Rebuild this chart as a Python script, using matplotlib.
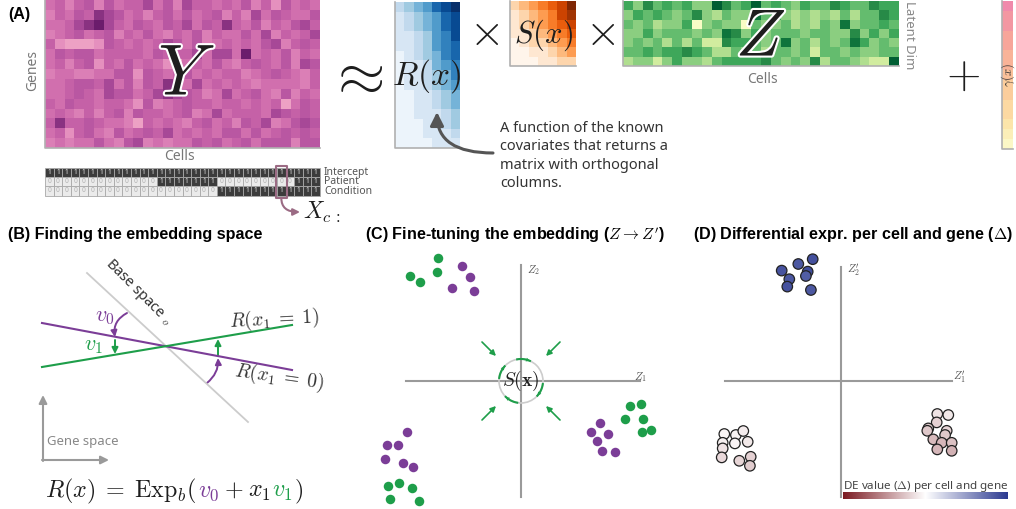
import numpy as np
import matplotlib.pyplot as plt
import matplotlib.patheffects as pe
from matplotlib.colors import LinearSegmentedColormap
from matplotlib.patches import Rectangle, Circle, FancyArrowPatch

plt.rcParams['mathtext.fontset'] = 'cm'
plt.rcParams['font.family'] = ['Noto Sans', 'DejaVu Sans']

W, H = 1016, 509

# ---------------- data ----------------
# Y: genes x cells expression (levels 0-9)
y_rows = [
    "4535636 4557463 7554546 3526454",
    "3546587 6453564 6456353 7465446",
    "4457897 5465465 7465854 6354675",
    "3456456 3546435 4635446 4735457",
    "5211126 5454576 4634545 4673565",
    "4656645 5554655 5747749 4546354",
    "4535625 4645421 4546435 6546376",
    "3443344 6626545 6454553 4565435",
    "4456657 4636585 4745454 3444435",
    "4456547 6645787 6534745 6436354",
    "5465545 5426345 6554554 5451465",
    "4543535 6365545 6347455 5476565",
    "5855654 4315454 3564536 5734676",
    "4525643 6456574 5454664 6456565",
    "3434464 3673434 4656456 4666366",
]
# R(x): genes x latent dim
r_rows = [
    "2345789", "1234578", "1234578", "1123568", "1123567",
    "0123467", "0112456", "0112346", "0112345", "0011234",
    "0011234", "0011123", "0001123", "0001112", "0000111",
]
# S(x): latent x latent
s_rows = ["2345679", "1234578", "1234567", "1123456",
          "0122345", "0011234", "0001122"]
# Z: latent dim x cells
z_rows = [
    "6475656 4497569 5654655 7655766",
    "4656545 7435448 5643434 3535576",
    "5453446 0454405 4453435 4845565",
    "4464555 4548746 4555455 4474646",
    "4545353 5227665 4584535 4586454",
    "5565667 6533545 3554525 5454455",
    "3442464 4356666 7545473 5543229",
]
gamma_vals = [9, 8, 8, 7, 7, 6, 6, 5, 4, 4, 3, 3, 2, 1, 0]

design_names = ["Intercept", "Patient", "Condition"]
design_rows = [
    "1111111111111 1111111 111111111 111",
    "0000000000000 1111111 000000000 111",
    "0000000000000 0000000 111111111 111",
]
highlight_col = 27

# panel C latent coordinates
c_green_z1 = [-4.17, -4.22, -5.55, -5.04, 5.45, 6.0, 5.2, 6.12, 6.04, 6.5,
              -6.64, -6.09, -5.45, -6.55, -5.12]
c_green_z2 = [6.13, 5.47, 5.25, 4.94, -1.24, -1.14, -1.92, -1.92, -2.57, -2.47,
              -5.25, -5.12, -5.34, -5.92, -6.0]
c_purple_z1 = [-2.97, -2.55, -3.47, -2.34, 3.97, 3.49, 4.37, 3.8, 4.04, 4.7,
               -5.72, -6.72, -6.14, -6.8, -5.92, -5.39]
c_purple_z2 = [5.77, 5.19, 4.67, 4.52, -2.09, -2.55, -2.67, -2.99, -3.49, -3.55,
               -2.57, -3.2, -3.2, -3.89, -4.12, -4.29]

# panel D fine-tuned coordinates and DE values
d_z1 = [-1.4, -2.12, -2.95, -1.65, -1.74, -2.57, -2.67, -1.49,
        -5.82, -5.24, -4.87, -5.9, -5.29, -4.65, -5.9, -5.95, -5.07, -4.5, -4.54,
        4.83, 5.38, 4.8, 4.38, 4.33, 5.3, 5.22, 4.63, 5.05, 5.55, 4.83, 5.55]
d_z2 = [6.09, 5.85, 5.52, 5.47, 5.25, 5.09, 4.72, 4.55,
        -2.65, -2.7, -2.5, -3.09, -3.12, -3.04, -3.37, -3.82, -3.99, -3.79, -4.24,
        -1.65, -1.7, -2.07, -2.37, -2.49, -2.49, -2.7, -2.92, -3.09, -3.09, -3.42, -3.49]
d_delta = [0.88, 0.84, 0.86, 0.90, 0.82, 0.85, 0.87, 0.84,
           -0.04, -0.06, -0.08, -0.07, -0.05, -0.10, -0.12, -0.17, -0.18, -0.20, -0.22,
           -0.12, -0.10, -0.20, -0.22, -0.24, -0.19, -0.24, -0.30, -0.32, -0.27, -0.32, -0.34]

PURPLE = '#7b3d97'
GREEN = '#1e9e4a'
BOLD = dict(fontweight='bold', family=['Liberation Sans', 'DejaVu Sans'], fontsize=11.6)


def to_mat(rows):
    return np.array([[int(c) for c in r.replace(' ', '')] for r in rows])


fig = plt.figure(figsize=(W / 100, H / 100), dpi=100)
ax = fig.add_axes([0, 0, 1, 1])
ax.axis('off')


def heat(mat, cmap, box, lo=0, hi=9):
    x0, x1, y0, y1 = box
    ax.imshow(mat, cmap=cmap, vmin=lo, vmax=hi, extent=(x0, x1, y1, y0),
              aspect='auto', interpolation='nearest')
    ax.plot([x0, x0, x1], [y0, y1, y1], color='#b0b0b0', lw=1.2)


# ---------------- panel A ----------------
ycm = LinearSegmentedColormap.from_list('y', ['#f6b3cb', '#e38cbd', '#cc67aa', '#b04f9e', '#6b1c6c'])
gcm = LinearSegmentedColormap.from_list('g', ['#fbf7c6', '#fde3a7', '#fbc79a', '#f8a998', '#f08aab'])
heat(to_mat(y_rows), ycm, (45, 320, 0, 148))
heat(to_mat(r_rows), 'Blues', (395, 460, 2, 148), lo=-0.5)
heat(to_mat(s_rows), 'Oranges', (510, 576, 1, 66))
heat(to_mat(z_rows), 'YlGn', (623, 899, 1, 66), lo=-1, hi=10)
heat(np.array(gamma_vals)[:, None], gcm, (1002, 1013, 1, 149))

stroke = [pe.withStroke(linewidth=3, foreground='white')]
ax.text(187, 76, '$Y$', fontsize=52, ha='center', va='center', color='#1e1e1e', path_effects=stroke)
ax.text(761, 38, '$Z$', fontsize=48, ha='center', va='center', color='#1e1e1e', path_effects=stroke)
ax.text(427, 76, '$R(x)$', fontsize=24, ha='center', va='center', color='#1e1e1e')
ax.text(543, 35, '$S(x)$', fontsize=22, ha='center', va='center', color='#1e1e1e')
ax.text(355, 77, r'$\approx$', fontsize=44, ha='center', va='center', color='#1e1e1e')
ax.text(484, 34, r'$\times$', fontsize=32, ha='center', va='center', color='#1e1e1e')
ax.text(600, 34, r'$\times$', fontsize=32, ha='center', va='center', color='#1e1e1e')
ax.text(963, 77, r'$+$', fontsize=32, ha='center', va='center', color='#1e1e1e')
ax.text(1008, 75, r'$\gamma(x)$', rotation=90, fontsize=9, ha='center', va='center', color='#333')

ax.text(8, 14, '(A)', va='center', **BOLD)
ax.text(179, 157, 'Cells', fontsize=10, color='#777', ha='center', va='center')
ax.text(762, 79, 'Cells', fontsize=10, color='#777', ha='center', va='center')
ax.text(33, 70, 'Genes', fontsize=10, color='#777', ha='center', va='center', rotation=90)
ax.text(910, 35, 'Latent Dim', fontsize=9.5, color='#888', ha='center', va='center', rotation=-90)

ax.text(500, 121, 'A function of the known\ncovariates that returns a\nmatrix with orthogonal\ncolumns.',
        fontsize=10.5, va='top', ha='left', linespacing=1.3, color='#333')
ax.annotate('', xy=(437, 112), xytext=(493, 153),
            arrowprops=dict(arrowstyle='-|>', color='#555', lw=2.2, mutation_scale=20,
                            connectionstyle='angle3,angleA=0,angleB=90', shrinkA=0, shrinkB=0))

# design matrix
tx0, tx1, ty0, rh = 45, 320, 168, 9.2
design = to_mat(design_rows)
cw = (tx1 - tx0) / design.shape[1]
for i, row in enumerate(design):
    for j, v in enumerate(row):
        fc = '#3c3c3c' if v else '#ebebeb'
        ax.add_patch(Rectangle((tx0 + j * cw, ty0 + i * rh), cw, rh, fc=fc, ec='#a8a8a8', lw=0.6))
        ax.text(tx0 + (j + 0.5) * cw, ty0 + (i + 0.5) * rh, str(v), fontsize=4.8,
                color='#e6e6e6' if v else '#b0b0b0', ha='center', va='center')
    ax.text(tx1 + 4, ty0 + (i + 0.5) * rh, design_names[i], fontsize=7.5, color='#555',
            ha='left', va='center')
ax.add_patch(Rectangle((tx0 + highlight_col * cw - 1.5, ty0 - 2.5), cw + 3, 3 * rh + 5,
                       fc='none', ec='#9b6b84', lw=1.5, joinstyle='round'))
ax.annotate('', xy=(300, 212), xytext=(tx0 + (highlight_col + 0.5) * cw, ty0 + 3 * rh + 2.5),
            arrowprops=dict(arrowstyle='-|>', color='#9b6b84', lw=1.5, mutation_scale=10,
                            connectionstyle='angle3,angleA=90,angleB=0', shrinkA=0, shrinkB=0))
ax.text(303, 212, r'$X_{c\,:}$', fontsize=17, ha='left', va='center', color='#1e1e1e')

# ---------------- panel B ----------------
ax.text(8, 235, '(B) Finding the embedding space', va='center', **BOLD)
ax.plot([87, 248], [273, 422], color='#cccccc', lw=1.3)
ax.plot([42, 292], [323, 370], color=PURPLE, lw=1.5)
ax.plot([42, 292], [367, 325], color=GREEN, lw=1.5)
ax.text(101, 268, 'Base space $_o$', rotation=-45, rotation_mode='anchor', fontsize=10.5,
        color='#333', ha='left', va='bottom')
ax.text(105, 317, '$v_0$', fontsize=16, color=PURPLE, ha='center', va='center')
ax.text(94, 346, '$v_1$', fontsize=16, color=GREEN, ha='center', va='center')
ax.text(229, 320, r'$R(x_1 \;=\; 1)$', fontsize=14, color='#333', ha='left', va='center', rotation=3)
ax.text(233, 377, r'$R(x_1 \;=\; 0)$', fontsize=14, color='#333', ha='left', va='center', rotation=-8)


def arrow(p0, p1, color, rad=0.0, ms=9, lw=1.4):
    ax.add_patch(FancyArrowPatch(p0, p1, arrowstyle='-|>', mutation_scale=ms, color=color, lw=lw,
                                 connectionstyle=f'arc3,rad={rad}', shrinkA=0, shrinkB=0))


arrow((127, 313), (115, 337), PURPLE, rad=0.35)
arrow((115, 340), (115, 354), GREEN)
arrow((207, 383), (218, 358), PURPLE, rad=0.25)
arrow((218, 356), (218, 339), GREEN)
arrow((43, 461), (43, 395), '#9a9a9a', ms=12, lw=1.5)
arrow((42, 460), (109, 460), '#9a9a9a', ms=12, lw=1.5)
ax.text(47, 442, 'Gene space', fontsize=9.5, color='#888', ha='left', va='center')

pieces = [(r'$R(x) \;=\; \mathrm{Exp}_b($', '#1e1e1e', 0), (r'$v_0$', PURPLE, 1),
          (r'$+$', '#1e1e1e', 5), (r'$x_1$', '#1e1e1e', 5),
          (r'$v_1$', GREEN, 1), (r'$)$', '#1e1e1e', 1)]
rend = fig.canvas.get_renderer()
ax.set_xlim(0, W)
ax.set_ylim(H, 0)
xp = 45
for s, c, gap in pieces:
    xp += gap
    t = ax.text(xp, 497, s, fontsize=17.3, color=c, ha='left', va='baseline')
    xp += t.get_window_extent(renderer=rend).width

# colorbar for DE values
decm = LinearSegmentedColormap.from_list('de', ['#7b1a22', '#ffffff', '#2b3990'])
ax.imshow(np.linspace(-1, 1, 256)[None, :], cmap=decm, extent=(843, 1008, 499, 492), aspect='auto')
ax.text(843, 486, r'DE value ($\Delta$) per cell and gene', fontsize=8.4, color='#444',
        ha='left', va='center')

ax.text(365, 235, r"(C) Fine-tuning the embedding ($Z \rightarrow Z'$)", va='center', **BOLD)
ax.text(693, 235, r'(D) Differential expr. per cell and gene ($\Delta$)', va='center', **BOLD)

ax.set_xlim(0, W)
ax.set_ylim(H, 0)


def px_axes(x0, y0, w, h):
    a = fig.add_axes([x0 / W, 1 - (y0 + h) / H, w / W, h / H])
    a.axis('off')
    return a


# ---------------- panel C ----------------
axc = px_axes(380, 250, 290, 259)
axc.set_xlim(-7.05, 7.45)
axc.set_ylim(-6.4, 6.55)
axc.plot([-5.75, 5.95], [0, 0], color='#9a9a9a', lw=1.5, zorder=1)
axc.plot([0, 0], [-5.8, 5.8], color='#9a9a9a', lw=1.5, zorder=1)
axc.text(0.3, 5.55, '$Z_2$', fontsize=8, color='#555', ha='left', va='center')
axc.text(5.65, 0.22, '$Z_1$', fontsize=8, color='#555', ha='left', va='center')
axc.add_patch(Circle((0, 0), 1.1, fill=False, ec='#cccccc', lw=1.2, zorder=2))
axc.text(0, 0, r'$S(\mathbf{x})$', fontsize=14, ha='center', va='center', color='#222', zorder=3)
for a0, a1 in [(100, 66), (-8, -42), (-100, -134), (172, 138)]:
    t = np.radians(np.linspace(a0, a1, 20))
    axc.plot(1.1 * np.cos(t), 1.1 * np.sin(t), color=GREEN, lw=1.5, zorder=3)
    axc.annotate('', xy=(1.1 * np.cos(t[-1]), 1.1 * np.sin(t[-1])),
                 xytext=(1.1 * np.cos(t[-6]), 1.1 * np.sin(t[-6])),
                 arrowprops=dict(arrowstyle='-|>', color=GREEN, lw=0, mutation_scale=7,
                                 shrinkA=0, shrinkB=0))
for sx, sy in [(-1, 1), (1, 1), (-1, -1), (1, -1)]:
    axc.annotate('', xy=(1.25 * sx, 1.25 * sy), xytext=(1.95 * sx, 1.95 * sy),
                 arrowprops=dict(arrowstyle='-|>', color=GREEN, lw=1.2, mutation_scale=8,
                                 shrinkA=0, shrinkB=0))
axc.scatter(c_green_z1, c_green_z2, s=47, color=GREEN, lw=0, zorder=4)
axc.scatter(c_purple_z1, c_purple_z2, s=47, color=PURPLE, lw=0, zorder=4)

# ---------------- panel D ----------------
axd = px_axes(700, 250, 316, 259)
axd.set_xlim(-7.035, 8.765)
axd.set_ylim(-6.4, 6.55)
axd.plot([-5.79, 5.55], [0, 0], color='#9a9a9a', lw=1.5, zorder=1)
axd.plot([0, 0], [-5.79, 5.72], color='#9a9a9a', lw=1.5, zorder=1)
axd.text(0.3, 5.55, r"$Z^{\prime}_2$", fontsize=8, color='#555', ha='left', va='center')
axd.text(5.6, 0.22, r"$Z^{\prime}_1$", fontsize=8, color='#555', ha='left', va='center')
axd.scatter(d_z1, d_z2, c=d_delta, cmap=decm, vmin=-1, vmax=1, s=57,
            edgecolors='#222', linewidths=0.9, zorder=4)

fig.savefig('out.png', dpi=100)
